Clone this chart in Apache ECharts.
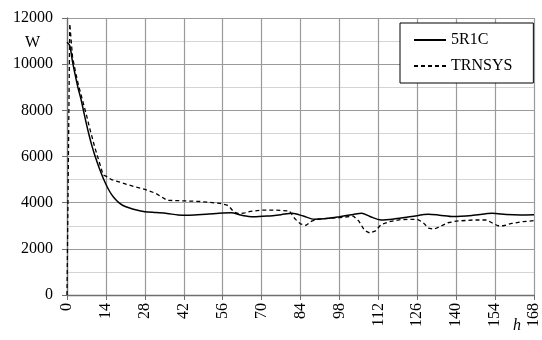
<!DOCTYPE html>
<html><head><meta charset="utf-8">
<script src="https://cdn.jsdelivr.net/npm/echarts@6/dist/echarts.min.js"></script>
<style>html,body{margin:0;padding:0;background:#fff}#c{width:542px;height:340px}</style>
</head><body><div id="c"></div>
<script>
var xTicks = [0,14,28,42,56,70,84,98,112,126,140,154,168];
var yTicks = [0,2000,4000,6000,8000,10000,12000];
var seriesNames = ['5R1C','TRNSYS'];
var hours5R1C = [0,1,2,3,4,5,6,7,8,9,10,11,12,13,14,15,16,17,18,19,20,22,25,28,32,36,40,44,50,56,59,63,67,72,77,81,85,89,94,98,103,106,109,113,118,124,130,134,139,146,153,158,163,168];
var values5R1C = [10950,10800,10100,9500,8950,8500,7950,7400,6900,6450,6050,5700,5370,5070,4800,4560,4360,4200,4070,3970,3890,3790,3680,3610,3570,3530,3470,3460,3500,3550,3560,3450,3390,3420,3480,3540,3420,3280,3320,3390,3490,3540,3400,3250,3300,3400,3500,3460,3400,3450,3540,3490,3470,3480];
var hoursTRNSYS = [0,1,2,3,4,5,6,7,8,9,10,11,12,13,14,16,20,24,28,32,36,42,48,55,58,60,62,64,66,70,75,80,82,84,86,88,90,94,98,103,105,107,109,111,113,116,120,126,128,130,132,134,137,140,146,151,153,155,157,160,164,168];
var valuesTRNSYS = [0,11750,10300,9700,9150,8700,8250,7800,7300,6850,6400,6000,5600,5200,5150,5000,4850,4700,4580,4400,4100,4080,4050,3970,3880,3600,3520,3560,3620,3680,3680,3640,3300,3080,3020,3200,3280,3320,3350,3420,3200,2800,2680,2780,3050,3180,3270,3280,3150,2900,2850,2950,3130,3200,3250,3250,3120,3000,3000,3100,3180,3220];

function pairs(xs, ys){ return xs.map(function(x,i){ return [x, ys[i]]; }); }
var FONT = 'Liberation Serif';
var chart = echarts.init(document.getElementById('c'), null, {renderer:'canvas'});
chart.setOption({
  animation:false,
  backgroundColor:'#fff',
  textStyle:{fontFamily:FONT},
  grid:{left:67,right:6,top:18,bottom:45,containLabel:false},
  xAxis:{type:'value',min:xTicks[0],max:xTicks[xTicks.length-1],interval:14,
    axisLine:{show:true,lineStyle:{color:'#6e6e6e',width:1.3}},
    axisTick:{show:true,length:5,lineStyle:{color:'#6e6e6e'}},
    axisLabel:{rotate:90,margin:8,color:'#000',fontSize:16,fontFamily:FONT,formatter:function(v){return String(v);}},
    splitLine:{show:true,lineStyle:{color:'#9a9a9a',width:1.2}}
  },
  yAxis:{type:'value',min:yTicks[0],max:yTicks[yTicks.length-1],interval:2000,
    axisLine:{show:true,lineStyle:{color:'#6e6e6e',width:1.3}},
    axisTick:{show:true,length:5,lineStyle:{color:'#6e6e6e'}},
    axisLabel:{margin:14,color:'#000',fontSize:16,fontFamily:FONT,formatter:function(v){return String(v);}},
    splitLine:{show:true,lineStyle:{color:'#9a9a9a',width:1.2}},
    minorTick:{show:false,splitNumber:2},
    minorSplitLine:{show:true,lineStyle:{color:'#d4d4d4',width:1.2}}
  },
  legend:{show:true,orient:'vertical',left:400,top:23,
    padding:[9,21,9,13],itemGap:10,itemWidth:32,itemHeight:16,
    borderColor:'#000',borderWidth:1,backgroundColor:'#fff',
    itemStyle:{opacity:0},
    textStyle:{fontSize:16,fontFamily:FONT,color:'#000'},
    data:seriesNames
  },
  graphic:[
    {type:'text',left:25,top:35,style:{text:'W',font:'16px "Liberation Serif"',fill:'#000'}},
    {type:'text',left:513,top:318,style:{text:'h',font:'italic 16px "Liberation Serif"',fill:'#000'}}
  ],
  series:[
    {name:seriesNames[0],type:'line',data:pairs(hours5R1C,values5R1C),smooth:0.3,showSymbol:false,symbol:'none',
      lineStyle:{color:'#000',width:1.5},itemStyle:{color:'#000'},z:3},
    {name:seriesNames[1],type:'line',data:pairs(hoursTRNSYS,valuesTRNSYS),smooth:false,showSymbol:false,symbol:'none',
      lineStyle:{color:'#000',width:1.3,type:[4,3]},itemStyle:{color:'#000'},z:2}
  ]
});
</script></body></html>
